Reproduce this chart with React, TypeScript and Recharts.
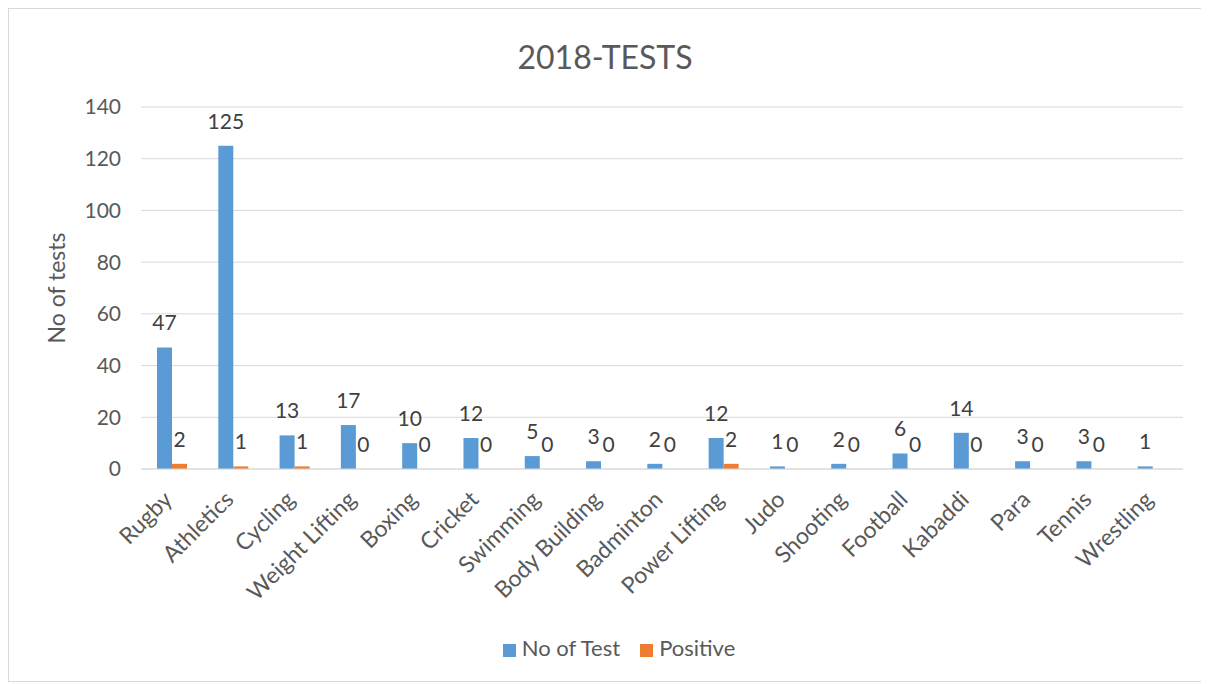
import { BarChart, Bar, XAxis, YAxis, CartesianGrid, Legend, LabelList } from 'recharts';

const sports = ['Rugby', 'Athletics', 'Cycling', 'Weight Lifting', 'Boxing', 'Cricket', 'Swimming', 'Body Building', 'Badminton', 'Power Lifting', 'Judo', 'Shooting', 'Football', 'Kabaddi', 'Para', 'Tennis', 'Wrestling'];
const noOfTest = [47, 125, 13, 17, 10, 12, 5, 3, 2, 12, 1, 2, 6, 14, 3, 3, 1];
const positive: (number | null)[] = [2, 1, 1, 0, 0, 0, 0, 0, 0, 2, 0, 0, 0, 0, 0, 0, null];
const yTicks = [0, 20, 40, 60, 80, 100, 120, 140];

const data = sports.map((s, i) => ({ sport: s, test: noOfTest[i], positive: positive[i] }));

const FONT = 'Lato, sans-serif';
const TEXT = '#595959';

function AngledTick({ x, y, payload }: any) {
  const ax = x + 2;
  const ay = y + 24;
  return (
    <text x={ax} y={ay} textAnchor="end" transform={`rotate(-45, ${ax}, ${ay})`}
      fill={TEXT} fontSize={23} fontFamily={FONT}>
      {payload.value}
    </text>
  );
}

function TopLabel({ x, y, width, value }: any) {
  if (value === null || value === undefined) return null;
  return (
    <text x={x + width / 2} y={y - 17} textAnchor="middle" fill="#404040" fontSize={21} fontFamily={FONT}>
      {value}
    </text>
  );
}

export default function App() {
  return (
    <div style={{ position: 'relative', width: 1192, height: 672, border: '1px solid #d9d9d9', background: '#fff', fontFamily: FONT }}>
      <div style={{ position: 'absolute', top: 28, left: 0, width: '100%', textAlign: 'center', fontSize: 32, color: TEXT }}>
        2018-TESTS
      </div>
      <BarChart width={1192} height={672} data={data} barGap={0}
        margin={{ top: 98, right: 18, left: 30, bottom: 0 }}>
        <CartesianGrid vertical={false} stroke="#d9d9d9" />
        <XAxis dataKey="sport" interval={0} tick={<AngledTick />} tickLine={false}
          axisLine={{ stroke: '#d9d9d9' }} height={185} />
        <YAxis domain={[0, 140]} ticks={yTicks} width={102} axisLine={false} tickLine={false}
          tick={{ fill: TEXT, fontSize: 21, fontFamily: FONT }} tickMargin={14}
          label={{ value: 'No of tests', angle: -90, position: 'insideLeft', offset: 18, fill: TEXT, fontSize: 23, fontFamily: FONT, style: { textAnchor: 'middle' } }} />
        <Legend verticalAlign="bottom" iconType="square" iconSize={13}
          wrapperStyle={{ bottom: 20, fontSize: 22, fontFamily: FONT, paddingLeft: 18 }}
          formatter={(v) => <span style={{ color: TEXT, marginLeft: 2, marginRight: 10 }}>{v}</span>} />
        <Bar dataKey="test" name="No of Test" fill="#5b9bd5" barSize={15} isAnimationActive={false}>
          <LabelList dataKey="test" content={<TopLabel />} />
        </Bar>
        <Bar dataKey="positive" name="Positive" fill="#ed7d31" barSize={15} minPointSize={0.01} isAnimationActive={false}>
          <LabelList dataKey="positive" content={<TopLabel />} />
        </Bar>
      </BarChart>
    </div>
  );
}
